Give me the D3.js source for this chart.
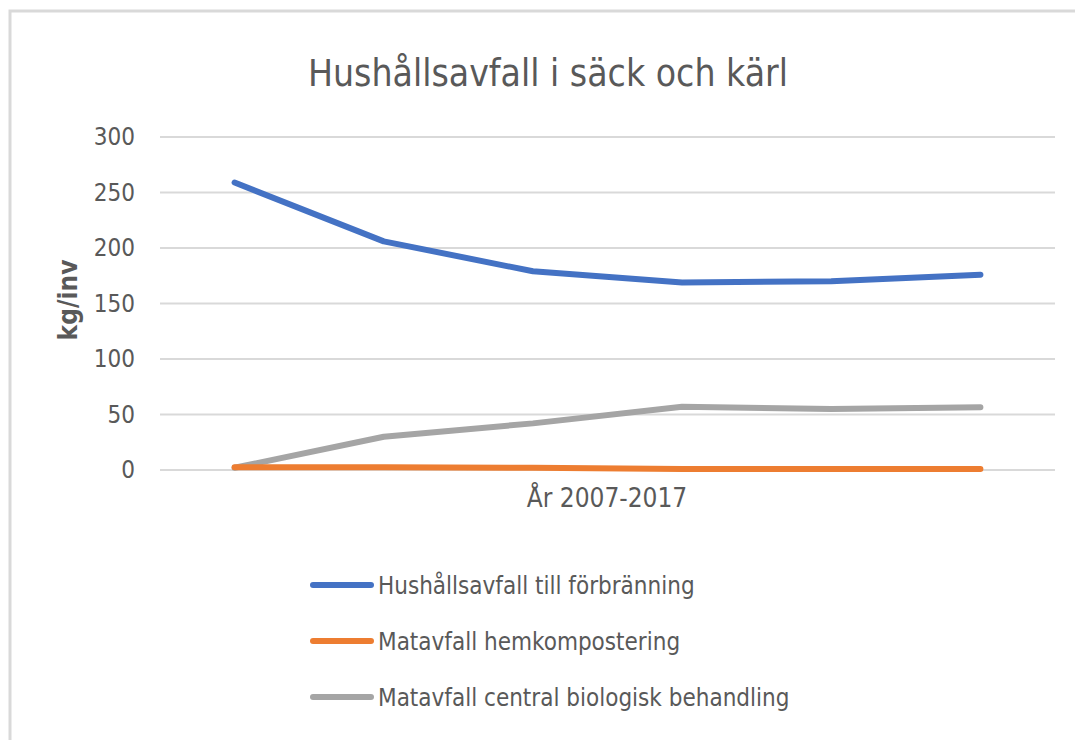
<!DOCTYPE html>
<html><head><meta charset="utf-8">
<script src="https://cdn.jsdelivr.net/npm/d3@7"></script>
<style>body{margin:0;background:#fff;}svg{display:block;}</style>
</head><body>
<script>
const title = "Hushållsavfall i säck och kärl";
const categories = ["2007","2009","2011","2013","2015","2017"];
const seriesNames = ["Hushållsavfall till förbränning","Matavfall hemkompostering","Matavfall central biologisk behandling"];
const seriesColors = ["#4472c4","#ed7d31","#a5a5a5"];
const forbranning = [259, 206, 179, 169, 170, 176];
const hemkompost = [2.5, 2.5, 2, 1, 1, 1];
const biologisk = [2, 30, 42, 57, 55, 56.5];
const yTicks = [0, 50, 100, 150, 200, 250, 300];
const yTitle = "kg/inv";
const xTitle = "År 2007-2017";

const W = 1075, H = 740;
const font = "'Liberation Sans Narrow','DejaVu Sans Condensed',sans-serif";
const svg = d3.select("body").append("svg").attr("width", W).attr("height", H);

svg.append("path").attr("d", "M10,740 V11 H1075").attr("fill","none").attr("stroke","#d9d9d9").attr("stroke-width",3);

svg.append("text").attr("x", 548).attr("y", 86).attr("text-anchor","middle")
  .attr("font-family", font).attr("font-size", 37).attr("fill","#595959").text(title);

const x = d3.scalePoint().domain(categories).range([160, 1055]).padding(0.5);
const y = d3.scaleLinear().domain([0, 300]).range([470, 137]);

const grid = svg.append("g");
grid.selectAll("line").data(yTicks).join("line")
  .attr("x1", 160).attr("x2", 1055).attr("y1", d => y(d)).attr("y2", d => y(d))
  .attr("stroke","#d9d9d9").attr("stroke-width",2);

const yAxis = svg.append("g").attr("transform","translate(160,0)")
  .call(d3.axisLeft(y).tickValues(yTicks).tickSize(0).tickPadding(25));
yAxis.select(".domain").remove();
yAxis.selectAll("text").attr("font-family", font).attr("font-size", 24).attr("fill","#595959");

svg.append("text").attr("transform","translate(77,300) rotate(-90)").attr("text-anchor","middle")
  .attr("font-family", font).attr("font-size", 26).attr("font-weight","bold").attr("fill","#595959").text(yTitle);
svg.append("text").attr("x", 607).attr("y", 507).attr("text-anchor","middle")
  .attr("font-family", font).attr("font-size", 26).attr("fill","#595959").text(xTitle);

const data = [forbranning, hemkompost, biologisk];
const line = d3.line().x((d,i) => x(categories[i])).y(d => y(d));
[2,1,0].forEach(k => {
  svg.append("path").attr("d", line(data[k])).attr("fill","none")
    .attr("stroke", seriesColors[k]).attr("stroke-width", 6).attr("stroke-linecap","round").attr("stroke-linejoin","round");
});

const lg = svg.append("g");
seriesNames.forEach((n, i) => {
  const yy = 585 + i * 56;
  lg.append("line").attr("x1", 313).attr("x2", 371).attr("y1", yy).attr("y2", yy)
    .attr("stroke", seriesColors[i]).attr("stroke-width", 6).attr("stroke-linecap","round");
  lg.append("text").attr("x", 378).attr("y", yy + 9).attr("font-family", font).attr("font-size", 24)
    .attr("fill","#595959").text(n);
});
</script>
</body></html>
